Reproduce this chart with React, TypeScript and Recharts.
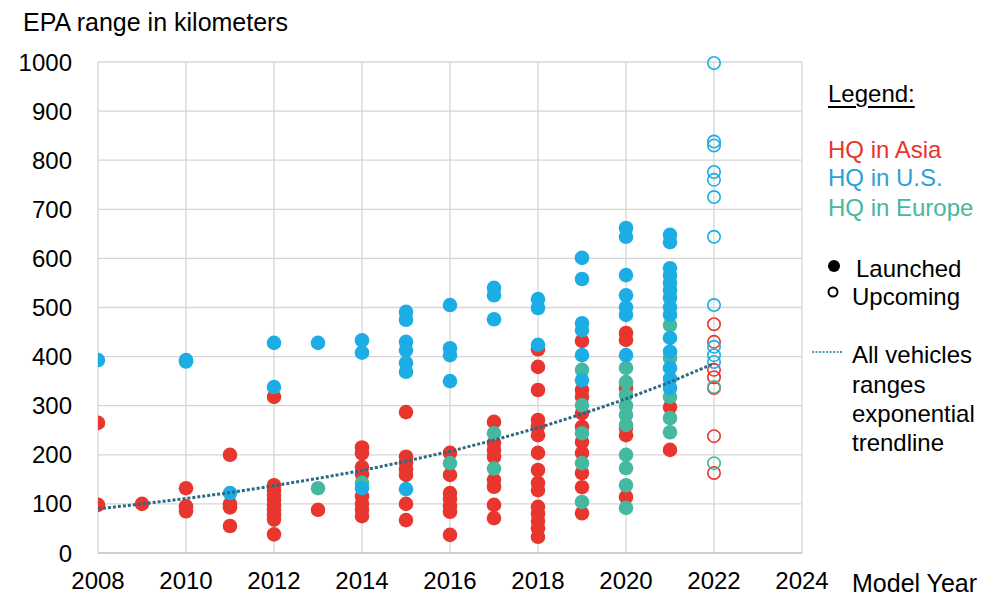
import React from 'react';
import {
  ScatterChart,
  Scatter,
  XAxis,
  YAxis,
  CartesianGrid,
} from 'recharts';

// [model year, EPA range km]
const asiaLaunched: [number, number][] = [
  [2008, 265], [2008, 98],
  [2009, 100],
  [2010, 132], [2010, 95], [2010, 85],
  [2011, 200], [2011, 100], [2011, 93], [2011, 55],
  [2012, 318], [2012, 138], [2012, 128], [2012, 118], [2012, 108], [2012, 98], [2012, 88], [2012, 78], [2012, 68], [2012, 38],
  [2013, 88],
  [2014, 215], [2014, 203], [2014, 175], [2014, 160], [2014, 115], [2014, 100], [2014, 88], [2014, 75],
  [2015, 287], [2015, 196], [2015, 184], [2015, 170], [2015, 159], [2015, 100], [2015, 67],
  [2016, 204], [2016, 159], [2016, 122], [2016, 110], [2016, 96], [2016, 84], [2016, 37],
  [2017, 267], [2017, 224], [2017, 210], [2017, 196], [2017, 149], [2017, 135], [2017, 98], [2017, 71],
  [2018, 415], [2018, 379], [2018, 332], [2018, 271], [2018, 258], [2018, 240], [2018, 204], [2018, 169], [2018, 143], [2018, 128], [2018, 94], [2018, 80], [2018, 65], [2018, 50], [2018, 33],
  [2019, 432], [2019, 332], [2019, 318], [2019, 285], [2019, 257], [2019, 226], [2019, 204], [2019, 163], [2019, 134], [2019, 81],
  [2020, 448], [2020, 434], [2020, 336], [2020, 255], [2020, 240], [2020, 114],
  [2021, 297], [2021, 210],
];

const usLaunched: [number, number][] = [
  [2008, 393],
  [2010, 393], [2010, 390],
  [2011, 122],
  [2012, 428], [2012, 338],
  [2013, 428],
  [2014, 433], [2014, 408], [2014, 132],
  [2015, 491], [2015, 475], [2015, 430], [2015, 413], [2015, 387], [2015, 369], [2015, 130],
  [2016, 505], [2016, 417], [2016, 403], [2016, 350],
  [2017, 540], [2017, 525], [2017, 476],
  [2018, 517], [2018, 499], [2018, 424],
  [2019, 601], [2019, 558], [2019, 468], [2019, 454], [2019, 403], [2019, 352],
  [2020, 662], [2020, 644], [2020, 566], [2020, 525], [2020, 500], [2020, 485], [2020, 403],
  [2021, 648], [2021, 633], [2021, 580], [2021, 565], [2021, 550], [2021, 535], [2021, 520], [2021, 500], [2021, 485], [2021, 438], [2021, 410], [2021, 377], [2021, 355], [2021, 336],
];

const europeLaunched: [number, number][] = [
  [2013, 132],
  [2014, 143],
  [2016, 183],
  [2017, 244], [2017, 172],
  [2019, 373], [2019, 301], [2019, 244], [2019, 183], [2019, 104],
  [2020, 377], [2020, 348], [2020, 322], [2020, 300], [2020, 281], [2020, 261], [2020, 200], [2020, 173], [2020, 138], [2020, 92],
  [2021, 464], [2021, 397], [2021, 318], [2021, 275], [2021, 246],
];

const asiaUpcoming: [number, number][] = [
  [2022, 466], [2022, 430], [2022, 373], [2022, 358], [2022, 336], [2022, 238], [2022, 163],
];

const usUpcoming: [number, number][] = [
  [2022, 998], [2022, 838], [2022, 830], [2022, 776], [2022, 760], [2022, 725], [2022, 644], [2022, 505], [2022, 420], [2022, 403], [2022, 389],
];

const europeUpcoming: [number, number][] = [
  [2022, 338], [2022, 183],
];

// exponential trendline
const trendYears = [2008, 2009, 2010, 2011, 2012, 2013, 2014, 2015, 2016, 2017, 2018, 2019, 2020, 2021, 2022];
const trendKm = [90, 100, 111, 123, 137, 152, 168, 187, 207, 230, 255, 283, 314, 348, 386];

const xTicks = [2008, 2010, 2012, 2014, 2016, 2018, 2020, 2022, 2024];
const yTicks = [0, 100, 200, 300, 400, 500, 600, 700, 800, 900, 1000];

const RED = '#E8352D';
const BLUE = '#1BADE3';
const TEAL = '#45B8A0';
const TREND = '#2B6A86';
const FONT = '"Liberation Sans", Arial, sans-serif';

const toPoints = (arr: [number, number][]) => arr.map(([x, y]) => ({ x, y }));
const trendData = trendYears.map((x, i) => ({ x, y: trendKm[i] }));

const filled = (color: string) => (props: any) => (
  <circle cx={props.cx} cy={props.cy} r={7.3} fill={color} />
);
const hollow = (color: string) => (props: any) => (
  <circle cx={props.cx} cy={props.cy} r={6.2} fill="none" stroke={color} strokeWidth={1.6} />
);

const tickStyle = { fontSize: 24, fill: '#000', fontFamily: FONT };

const textLine = (top: number, left: number, text: string, color = '#000', extra: React.CSSProperties = {}) => (
  <div
    style={{
      position: 'absolute',
      top,
      left,
      fontSize: 24,
      lineHeight: '26px',
      color,
      fontFamily: FONT,
      whiteSpace: 'nowrap',
      ...extra,
    }}
  >
    {text}
  </div>
);

export default function App() {
  return (
    <div style={{ position: 'absolute', left: 0, top: 0, width: 1007, height: 596, background: '#fff', fontFamily: FONT }}>
      <ScatterChart
        width={1007}
        height={596}
        margin={{ top: 62, right: 205, bottom: 13, left: 20 }}
      >
        <CartesianGrid stroke="#d6d6d6" strokeWidth={1.3} />
        <XAxis
          type="number"
          dataKey="x"
          domain={[2008, 2024]}
          ticks={xTicks}
          height={30}
          tickLine={false}
          tickSize={0}
          tickMargin={19}
          axisLine={{ stroke: '#c8c8c8', strokeWidth: 1.5 }}
          tick={tickStyle}
          allowDataOverflow
        />
        <YAxis
          type="number"
          dataKey="y"
          domain={[0, 1000]}
          ticks={yTicks}
          width={78}
          tickLine={false}
          tickSize={0}
          tickMargin={26}
          axisLine={false}
          tick={tickStyle}
          interval={0}
        />
        <Scatter data={toPoints(asiaLaunched)} shape={filled(RED)} isAnimationActive={false} />
        <Scatter data={toPoints(europeLaunched)} shape={filled(TEAL)} isAnimationActive={false} />
        <Scatter data={toPoints(usLaunched)} shape={filled(BLUE)} isAnimationActive={false} />
        <Scatter data={toPoints(asiaUpcoming)} shape={hollow(RED)} isAnimationActive={false} />
        <Scatter data={toPoints(usUpcoming)} shape={hollow(BLUE)} isAnimationActive={false} />
        <Scatter data={toPoints(europeUpcoming)} shape={hollow(TEAL)} isAnimationActive={false} />
        <Scatter
          data={trendData}
          line={{ stroke: TREND, strokeWidth: 3, strokeDasharray: '3 2' }}
          shape={() => <g />}
          isAnimationActive={false}
        />
      </ScatterChart>

      {textLine(8, 23, 'EPA range in kilometers', '#000', { fontSize: 25, lineHeight: '28px' })}
      {textLine(570, 852, 'Model Year', '#000', { fontSize: 25 })}

      {textLine(81, 828, 'Legend:', '#000', { textDecoration: 'underline', textDecorationThickness: 2, textUnderlineOffset: 4 })}
      {textLine(137, 828, 'HQ in Asia', RED)}
      {textLine(165, 828, 'HQ in U.S.', '#2E9FD6')}
      {textLine(195, 828, 'HQ in Europe', TEAL)}

      <svg style={{ position: 'absolute', left: 826, top: 258 }} width={20} height={44}>
        <circle cx={8} cy={8} r={6} fill="#000" />
        <circle cx={7} cy={34} r={4.5} fill="none" stroke="#000" strokeWidth={2} />
      </svg>
      {textLine(256, 856, 'Launched')}
      {textLine(284, 852, 'Upcoming')}

      <svg style={{ position: 'absolute', left: 812, top: 348 }} width={36} height={8}>
        <line x1={0} y1={4} x2={30} y2={4} stroke="#4A9AAE" strokeWidth={2} strokeDasharray="2 1.5" />
      </svg>
      {textLine(342, 852, 'All vehicles')}
      {textLine(372, 852, 'ranges')}
      {textLine(401, 852, 'exponential')}
      {textLine(430, 852, 'trendline')}
    </div>
  );
}
